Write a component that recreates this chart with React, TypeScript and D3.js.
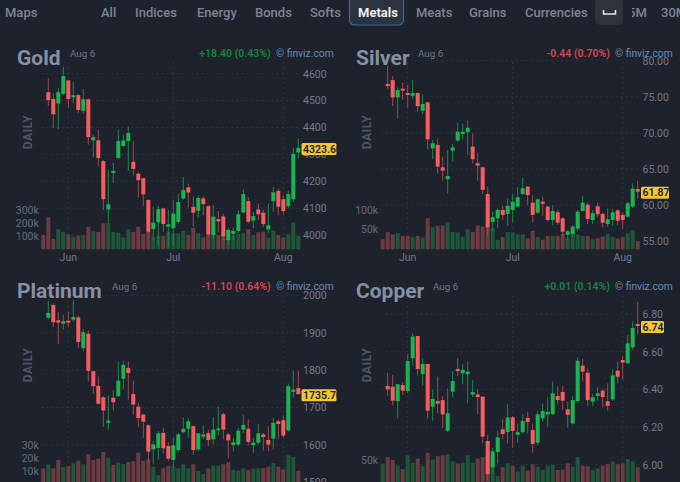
import React, { useEffect, useRef } from 'react';
import * as d3 from 'd3';

// rows are open, high, low, close
const goldCandles = [
  [4531, 4583, 4480, 4502], [4506, 4527, 4398, 4449], [4489, 4546, 4394, 4531], [4525, 4626, 4521, 4591],
  [4575, 4577, 4474, 4506], [4512, 4570, 4490, 4520], [4520, 4525, 4453, 4465], [4462, 4543, 4451, 4505],
  [4505, 4509, 4336, 4364], [4352, 4373, 4290, 4364], [4352, 4391, 4257, 4286], [4275, 4280, 4093, 4133],
  [4095, 4241, 4046, 4114], [4231, 4268, 4194, 4238], [4286, 4391, 4284, 4349], [4331, 4373, 4327, 4352],
  [4349, 4404, 4238, 4379], [4272, 4349, 4222, 4246], [4228, 4235, 4140, 4204], [4211, 4212, 4107, 4151],
  [4130, 4132, 4004, 4012], [4022, 4105, 3979, 4046], [4047, 4107, 3963, 4096], [4099, 4102, 4012, 4041],
  [4031, 4093, 3954, 4040], [4025, 4130, 3963, 4080], [4049, 4154, 4043, 4123], [4136, 4216, 4130, 4167],
  [4177, 4191, 4102, 4158], [4105, 4144, 4033, 4083], [4090, 4146, 4065, 4138], [4136, 4144, 4074, 4115],
  [4107, 4111, 3994, 4002], [4000, 4111, 3984, 4068], [4059, 4089, 4010, 4051], [4069, 4080, 3981, 3994],
  [3981, 4027, 3963, 4019], [4004, 4028, 3981, 4015], [4015, 4093, 4006, 4077], [4084, 4169, 4080, 4152],
  [4126, 4142, 4043, 4049], [4054, 4086, 4025, 4070], [4095, 4117, 4056, 4077], [4083, 4093, 4031, 4041],
  [4021, 4115, 4006, 4036], [4126, 4179, 4086, 4159], [4164, 4173, 4074, 4105], [4133, 4148, 4074, 4089],
  [4107, 4164, 4099, 4152], [4133, 4325, 4123, 4302], [4307, 4358, 4284, 4323.6],
];
const goldVolume = [
  110, 246, 79, 154, 133, 115, 97, 105, 110, 174, 141, 133, 200, 205, 133, 128, 92, 154, 133, 174, 118, 136, 97, 103, 103, 136,
  123, 123, 141, 110, 167, 123, 92, 110, 136, 110, 92, 85, 110, 118, 128, 154, 110, 131, 136, 92, 144, 110, 92, 115, 205, 103,
];

const silverCandles = [
  [76.77, 79.26, 76.03, 76.49], [77.32, 77.88, 73.72, 74.92], [74.92, 76.31, 72.02, 75.94], [76.12, 76.95, 74.55, 75.85],
  [75.52, 76.63, 73.54, 75.25], [75.15, 77.32, 74.65, 75.52], [75.52, 75.57, 72.94, 73.72], [73.08, 75.34, 72.62, 74.0],
  [74.23, 74.32, 67.74, 69.12], [67.87, 69.03, 66.35, 68.57], [68.34, 69.25, 64.41, 65.34], [65.24, 66.72, 63.4, 64.78],
  [63.58, 67.64, 61.65, 64.04], [67.55, 68.47, 66.03, 68.01], [68.94, 71.42, 68.8, 70.17], [69.85, 71.32, 69.12, 70.17],
  [70.08, 71.69, 66.95, 70.72], [68.11, 69.94, 65.8, 66.35], [65.8, 67.27, 63.4, 65.48], [65.24, 65.34, 61.51, 62.11],
  [61.55, 62.57, 55.74, 56.94], [57.68, 59.11, 56.48, 58.32], [58.18, 59.57, 56.8, 59.34], [59.34, 59.89, 57.95, 58.65],
  [58.78, 60.95, 57.12, 59.89], [59.34, 61.55, 57.58, 60.49], [59.8, 62.48, 59.71, 61.09], [61.55, 63.81, 61.41, 62.34],
  [62.57, 62.66, 60.03, 61.41], [60.35, 61.41, 57.58, 58.65], [58.97, 60.95, 58.78, 60.81], [60.49, 61.18, 58.51, 60.17],
  [59.8, 59.89, 57.72, 57.95], [57.95, 60.03, 57.26, 59.2], [59.01, 59.34, 57.26, 57.58], [58.18, 58.32, 55.74, 56.34],
  [55.88, 56.57, 55.09, 56.38], [55.97, 57.26, 55.65, 57.03], [56.75, 59.34, 56.43, 59.11], [59.2, 61.28, 59.11, 60.35],
  [60.08, 60.35, 57.4, 58.09], [57.95, 59.34, 57.4, 58.88], [59.85, 60.35, 58.41, 58.74], [58.78, 59.01, 56.94, 57.58],
  [57.4, 59.52, 57.03, 58.05], [57.95, 59.43, 57.12, 59.01], [59.29, 59.43, 57.26, 57.86], [58.65, 58.97, 56.71, 57.95],
  [58.41, 60.49, 58.32, 60.26], [59.8, 63.03, 59.57, 62.29], [62.25, 63.35, 60.95, 61.87],
];
const silverVolume = [
  26, 44, 38, 41, 34, 34, 31, 34, 30, 79, 56, 60, 61, 68, 44, 43, 32, 51, 44, 61, 58, 58, 54, 24, 31, 44,
  43, 38, 38, 28, 47, 31, 24, 34, 34, 34, 39, 28, 37, 38, 34, 34, 26, 28, 32, 39, 32, 27, 31, 41, 48, 21,
];

const platinumCandles = [
  [1940, 1986, 1936, 1953], [1974, 1979, 1915, 1928], [1933, 1956, 1870, 1927], [1924, 1948, 1909, 1931],
  [1932, 1956, 1915, 1927], [1935, 1988, 1930, 1942], [1941, 1945, 1859, 1875], [1859, 1909, 1850, 1901],
  [1897, 1906, 1770, 1798], [1797, 1798, 1737, 1757], [1758, 1783, 1708, 1710], [1727, 1730, 1648, 1692],
  [1659, 1732, 1641, 1665], [1726, 1746, 1692, 1714], [1730, 1823, 1730, 1772], [1777, 1825, 1748, 1814],
  [1806, 1823, 1721, 1792], [1736, 1772, 1681, 1708], [1702, 1712, 1647, 1672], [1681, 1684, 1619, 1662],
  [1652, 1655, 1552, 1582], [1588, 1610, 1548, 1601], [1592, 1637, 1560, 1631], [1632, 1646, 1577, 1591],
  [1597, 1607, 1557, 1563], [1560, 1619, 1539, 1599], [1586, 1632, 1581, 1628], [1634, 1674, 1631, 1643],
  [1643, 1671, 1619, 1663], [1650, 1652, 1573, 1586], [1588, 1632, 1583, 1631], [1622, 1652, 1615, 1628],
  [1631, 1641, 1597, 1613], [1615, 1674, 1601, 1641], [1639, 1702, 1626, 1644], [1682, 1686, 1615, 1641],
  [1628, 1632, 1564, 1612], [1600, 1619, 1583, 1607], [1601, 1646, 1597, 1638], [1641, 1681, 1632, 1653],
  [1643, 1668, 1599, 1608], [1599, 1619, 1579, 1606], [1606, 1655, 1601, 1631], [1628, 1632, 1585, 1621],
  [1613, 1650, 1583, 1601], [1617, 1672, 1588, 1659], [1663, 1668, 1615, 1656], [1666, 1679, 1619, 1625],
  [1639, 1764, 1635, 1757], [1742, 1798, 1726, 1748], [1752, 1798, 1734, 1735.7],
];
const platinumVolume = [
  12.1, 15.2, 12.1, 18.6, 12.9, 13.9, 16, 18, 15.2, 23, 18.6, 19.6, 24.8, 20.4, 14.7, 16.5, 15.5, 17, 17.5, 24.3, 18, 19.1, 13.4, 6.9, 12.1, 13.9,
  13.4, 12.1, 15.2, 12.1, 15.2, 10, 7.7, 12.1, 14.2, 14.2, 15.2, 16.8, 10.8, 10.3, 12.1, 10.8, 11.8, 12.1, 12.3, 13.4, 16.2, 13.4, 11.3, 22.2, 20.9, 10,
];

const copperCandles = [
  [6.418, 6.488, 6.365, 6.4], [6.414, 6.476, 6.317, 6.34], [6.338, 6.428, 6.246, 6.427], [6.423, 6.439, 6.37, 6.393],
  [6.391, 6.586, 6.379, 6.55], [6.565, 6.697, 6.526, 6.68], [6.683, 6.683, 6.473, 6.508], [6.481, 6.565, 6.419, 6.535],
  [6.535, 6.535, 6.246, 6.287], [6.308, 6.4, 6.234, 6.349], [6.338, 6.467, 6.273, 6.324], [6.343, 6.365, 6.193, 6.267],
  [6.181, 6.405, 6.172, 6.273], [6.388, 6.497, 6.358, 6.444], [6.508, 6.565, 6.471, 6.497], [6.485, 6.535, 6.427, 6.503],
  [6.48, 6.547, 6.326, 6.494], [6.373, 6.45, 6.358, 6.386], [6.373, 6.402, 6.269, 6.359], [6.361, 6.365, 6.113, 6.149],
  [6.126, 6.158, 5.919, 5.95], [5.986, 6.09, 5.954, 6.071], [6.067, 6.181, 6.007, 6.145], [6.188, 6.241, 6.136, 6.163],
  [6.173, 6.32, 6.113, 6.251], [6.251, 6.258, 6.09, 6.179], [6.159, 6.219, 6.117, 6.173], [6.173, 6.269, 6.166, 6.232],
  [6.248, 6.281, 6.166, 6.227], [6.184, 6.219, 6.064, 6.11], [6.117, 6.287, 6.104, 6.267], [6.246, 6.326, 6.228, 6.285],
  [6.267, 6.358, 6.202, 6.28], [6.269, 6.441, 6.264, 6.379], [6.365, 6.418, 6.32, 6.343], [6.386, 6.418, 6.29, 6.34],
  [6.294, 6.335, 6.198, 6.265], [6.219, 6.365, 6.214, 6.343], [6.338, 6.568, 6.329, 6.552], [6.526, 6.563, 6.441, 6.494],
  [6.488, 6.51, 6.312, 6.343], [6.335, 6.375, 6.312, 6.358], [6.365, 6.411, 6.338, 6.379], [6.393, 6.4, 6.304, 6.359],
  [6.336, 6.432, 6.287, 6.312], [6.347, 6.506, 6.34, 6.474], [6.499, 6.547, 6.432, 6.467], [6.556, 6.577, 6.45, 6.542],
  [6.538, 6.688, 6.535, 6.644], [6.623, 6.763, 6.609, 6.726], [6.747, 6.865, 6.694, 6.736],
];
const copperVolume = [
  42, 56, 50, 38, 31, 60, 44, 53, 37, 65, 51, 58, 60, 62, 47, 43, 44, 60, 44, 53, 56, 60, 50, 16, 35, 43,
  38, 26, 38, 28, 41, 36, 29, 38, 40, 29, 30, 43, 36, 56, 38, 37, 29, 32, 38, 42, 47, 41, 43, 52, 47, 35,
];

const navLabels = ['Maps', 'All', 'Indices', 'Energy', 'Bonds', 'Softs', 'Metals', 'Meats', 'Grains', 'Currencies', '5M', '30M'];
const navX = [5, 101, 135, 197, 255, 310, 358, 416, 469, 525, 628, 661];

const monthLabels = ['Jun', 'Jul', 'Aug'];
const monthIndex = [5, 26, 48];

const BG = '#1e222c';
const UP = '#1cb351';
const DOWN = '#f65c60';
const UP_WICK = '#1a8a48';
const DOWN_WICK = '#a14a50';
const UP_VOL = '#1f5639';
const DOWN_VOL = '#6b3b42';

const panels = [
  {
    name: 'Gold', dateX: 70, change: '+18.40 (0.43%)', up: true, last: '4323.60', lastValue: 4323.6,
    candles: goldCandles, volume: goldVolume, firstUp: false,
    priceTicks: [4000, 4100, 4200, 4300, 4400, 4500, 4600], priceFormat: 'd', priceDomain: [4000, 4600], priceRange: [235, 73.7],
    volTicks: [100, 200, 300], volDomain: [0, 300], volRange: [249.3, 210.3],
    left: 43.3, top: 62, bottom: 249.3, titleY: 65, showMonths: true,
  },
  {
    name: 'Silver', dateX: 418, change: '-0.44 (0.70%)', up: false, last: '61.87', lastValue: 61.87,
    candles: silverCandles, volume: silverVolume, firstUp: false,
    priceTicks: [55, 60, 65, 70, 75, 80], priceFormat: '.2f', priceDomain: [55, 80], priceRange: [241.3, 60.7],
    volTicks: [50, 100], volDomain: [0, 100], volRange: [249.3, 210],
    left: 382.7, top: 62, bottom: 249.3, titleY: 65, showMonths: true,
  },
  {
    name: 'Platinum', dateX: 112, change: '-11.10 (0.64%)', up: false, last: '1735.70', lastValue: 1735.7,
    candles: platinumCandles, volume: platinumVolume, firstUp: false,
    priceTicks: [1500, 1600, 1700, 1800, 1900, 2000], priceFormat: 'd', priceDomain: [1500, 2000], priceRange: [482.3, 295.3],
    volTicks: [10, 20, 30], volDomain: [0, 30], volRange: [483.8, 445.3],
    left: 43.3, top: 296, bottom: 483.8, titleY: 298, showMonths: false,
  },
  {
    name: 'Copper', dateX: 433, change: '+0.01 (0.14%)', up: true, last: '6.74', lastValue: 6.736,
    candles: copperCandles, volume: copperVolume, firstUp: true,
    priceTicks: [6.0, 6.2, 6.4, 6.6, 6.8], priceFormat: '.2f', priceDomain: [6.0, 6.8], priceRange: [464.7, 314],
    volTicks: [50], volDomain: [0, 50], volRange: [483.8, 460],
    left: 382.7, top: 296, bottom: 483.8, titleY: 298, showMonths: false,
  },
];

const FONT = 'Roboto, sans-serif';

const App: React.FC = () => {
  const svgRef = useRef<SVGSVGElement | null>(null);

  useEffect(() => {
    document.body.style.margin = '0';
    document.body.style.background = BG;

    const svg = d3.select(svgRef.current);
    svg.selectAll('*').remove();
    svg.append('rect').attr('width', 680).attr('height', 482).attr('fill', BG);

    // top bar
    svg.append('rect').attr('x', 349.5).attr('y', -4).attr('width', 54).attr('height', 29).attr('rx', 5)
      .attr('fill', '#2b3340').attr('stroke', '#2f6d9c').attr('stroke-width', 1.2);
    svg.append('rect').attr('x', 595).attr('y', -4).attr('width', 28).attr('height', 29).attr('rx', 5).attr('fill', '#2d323d');
    svg.append('path').attr('d', 'M603.5,10 V14 H615.5 V10').attr('fill', 'none').attr('stroke', '#e8eaee').attr('stroke-width', 1.5);

    const nav = svg.append('g');
    nav.selectAll('text')
      .data(navLabels)
      .enter()
      .append('text')
      .attr('x', (_, i) => navX[i])
      .attr('y', 16.5)
      .attr('font-family', FONT)
      .attr('font-size', 13)
      .attr('font-weight', (d) => (d === 'Metals' ? 700 : 500))
      .attr('fill', (d) => (d === 'Metals' ? '#eceef2' : '#7d8494'))
      .text((d) => d);
    // the 5 of 5M is half hidden next to the button
    svg.append('rect').attr('x', 623).attr('y', 0).attr('width', 9).attr('height', 26).attr('fill', BG);

    panels.forEach((p) => {
      const g = svg.append('g');
      const n = p.volume.length;
      const x = d3.scaleLinear().domain([0, n - 1]).range([p.left, p.left + 5 * (n - 1)]);
      const y = d3.scaleLinear().domain(p.priceDomain).range(p.priceRange);
      const v = d3.scaleLinear().domain(p.volDomain).range(p.volRange);
      const right = x(n - 1) + 3;
      const isRight = p.left > 300;
      const textLeft = isRight ? 356 : 17;
      const labelX = isRight ? 642.5 : 303;
      const headY = p.titleY - 11.5;

      // grid
      const grid = g.append('g').attr('stroke', '#2f3440').attr('stroke-width', 1).attr('stroke-dasharray', '2,3');
      p.priceTicks.forEach((t) => {
        grid.append('line').attr('x1', p.left - 2).attr('x2', right).attr('y1', y(t)).attr('y2', y(t));
      });
      monthIndex.forEach((m) => {
        grid.append('line').attr('x1', x(m)).attr('x2', x(m)).attr('y1', p.top).attr('y2', p.bottom);
      });

      // volume
      g.append('g')
        .selectAll('rect')
        .data(p.volume)
        .enter()
        .append('rect')
        .attr('x', (_, i) => x(i) - 2)
        .attr('width', 4)
        .attr('y', (d) => v(d))
        .attr('height', (d) => v(0) - v(d))
        .attr('fill', (_, i) => {
          const up = i === 0 ? p.firstUp : p.candles[i - 1][3] >= p.candles[i - 1][0];
          return up ? UP_VOL : DOWN_VOL;
        });

      // candles, offset by one because the first volume bar has no candle in view
      const candles = g.append('g').selectAll('g').data(p.candles).enter().append('g');
      candles.append('line')
        .attr('x1', (_, i) => x(i + 1))
        .attr('x2', (_, i) => x(i + 1))
        .attr('y1', (d) => y(d[1]))
        .attr('y2', (d) => y(d[2]))
        .attr('stroke', (d) => (d[3] >= d[0] ? UP_WICK : DOWN_WICK))
        .attr('stroke-width', 1);
      candles.append('rect')
        .attr('x', (_, i) => x(i + 1) - 2)
        .attr('width', 4)
        .attr('y', (d) => y(Math.max(d[0], d[3])))
        .attr('height', (d) => Math.max(1.5, Math.abs(y(d[0]) - y(d[3]))))
        .attr('fill', (d) => (d[3] >= d[0] ? UP : DOWN));

      // price axis
      const priceAxis = d3.axisRight(y)
        .tickValues(p.priceTicks)
        .tickSize(0)
        .tickPadding(0)
        .tickFormat((d) => d3.format(p.priceFormat)(d as number));
      const pa = g.append('g').attr('transform', `translate(${labelX},0)`).call(priceAxis);
      pa.select('.domain').remove();
      pa.selectAll('text').attr('font-family', FONT).attr('font-size', 10.5).attr('fill', '#737a89');

      // volume labels
      g.append('g')
        .selectAll('text')
        .data(p.volTicks)
        .enter()
        .append('text')
        .attr('x', p.left - 4.5)
        .attr('y', (d) => v(d))
        .attr('dy', '0.35em')
        .attr('text-anchor', 'end')
        .attr('font-family', FONT)
        .attr('font-size', 10.5)
        .attr('fill', '#646b7a')
        .text((d) => `${d}k`);

      // months
      if (p.showMonths) {
        g.append('g')
          .selectAll('text')
          .data(monthLabels)
          .enter()
          .append('text')
          .attr('x', (_, i) => x(monthIndex[i]))
          .attr('y', 260.5)
          .attr('text-anchor', 'middle')
          .attr('font-family', FONT)
          .attr('font-size', 10.5)
          .attr('fill', '#737a89')
          .text((d) => d);
      }

      // last price tag
      const tagW = p.last.length > 5 ? 35 : p.last.length === 5 ? 28 : 23;
      const tagX = labelX - 1.5;
      const tagY = y(p.lastValue) + 1;
      g.append('rect').attr('x', tagX).attr('y', tagY - 6).attr('width', tagW).attr('height', 12).attr('rx', 1.5).attr('fill', '#f4c534');
      g.append('text')
        .attr('x', tagX + 1.5)
        .attr('y', tagY)
        .attr('dy', '0.35em')
        .attr('font-family', FONT)
        .attr('font-size', 10.5)
        .attr('font-weight', 600)
        .attr('fill', '#1e222c')
        .text(p.last);

      // headers
      g.append('text').attr('x', textLeft).attr('y', p.titleY).attr('font-family', FONT)
        .attr('font-size', 21).attr('font-weight', 700).attr('fill', '#8690a3').text(p.name);
      g.append('text').attr('x', p.dateX).attr('y', headY).attr('dy', '0.35em').attr('font-family', FONT)
        .attr('font-size', 9.8).attr('fill', '#6f7686').text('Aug 6');
      g.append('text').attr('x', isRight ? 610 : 270.7).attr('y', headY).attr('dy', '0.35em').attr('text-anchor', 'end')
        .attr('font-family', FONT).attr('font-size', 10.5).attr('font-weight', 600)
        .attr('fill', p.up ? '#14853f' : '#d9454d').text(p.change);
      g.append('text').attr('x', isRight ? 672.7 : 333.7).attr('y', headY - 0.5).attr('dy', '0.35em').attr('text-anchor', 'end')
        .attr('font-family', FONT).attr('font-size', 10.3).attr('fill', '#6a8cb4').text('© finviz.com');
      g.append('text')
        .attr('transform', `translate(${isRight ? 371 : 32},${p.titleY + 67}) rotate(-90)`)
        .attr('text-anchor', 'middle')
        .attr('font-family', FONT)
        .attr('font-size', 12)
        .attr('font-weight', 700)
        .attr('letter-spacing', 0.6)
        .attr('fill', '#4f5562')
        .text('DAILY');
    });
  }, []);

  return <svg ref={svgRef} width={680} height={482} style={{ position: 'fixed', left: 0, top: 0, display: 'block' }} />;
};

export default App;
